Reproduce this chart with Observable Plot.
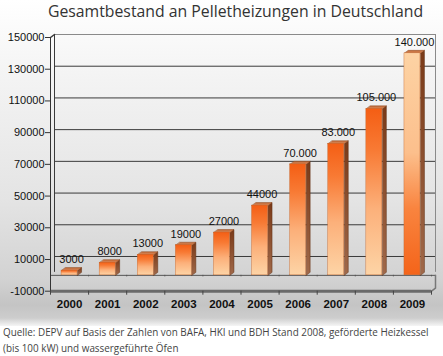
<!DOCTYPE html>
<html><head><meta charset="utf-8">
<script src="https://cdn.jsdelivr.net/npm/d3@7"></script>
<script src="https://cdn.jsdelivr.net/npm/@observablehq/plot@0.6"></script>
<style>
body{margin:0;background:#fff;}
#wrap{position:relative;width:443px;height:356px;overflow:hidden;background:#fff;}
#bg{position:absolute;left:0;top:0;width:443px;height:326px;
 background:linear-gradient(#ffffff 0px,#f3f3f3 80px,#e4e4e4 200px,#d2d2d2 280px,#c4c4c4 305px,#cdcdcd 318px,#ffffff 328px);}
#title{position:absolute;top:0;left:0;width:443px;text-align:center;padding-left:28px;box-sizing:border-box;
 font-family:"Open Sans",sans-serif;font-size:15.8px;line-height:22px;color:#333;white-space:nowrap;}
#chart{position:absolute;left:0;top:24px;}
#caption{position:absolute;left:3px;top:324px;font-family:"Open Sans",sans-serif;font-size:9.9px;line-height:16px;color:#444;white-space:nowrap;}
</style></head>
<body>
<div id="wrap">
 <div id="bg"></div>
 <div id="title">Gesamtbestand an Pelletheizungen in Deutschland</div>
 <div id="chart"></div>
 <div id="caption">Quelle: DEPV auf Basis der Zahlen von BAFA, HKI und BDH Stand 2008, geförderte Heizkessel<br>(bis 100 kW) und wassergeführte Öfen</div>
</div>
<script>
const years = ["2000","2001","2002","2003","2004","2005","2006","2007","2008","2009"];
const values = [3000, 8000, 13000, 19000, 27000, 44000, 70000, 83000, 105000, 140000];
const valueLabels = ["3000","8000","13000","19000","27000","44000","70.000","83.000","105.000","140.000"];
const yTicks = [-10000, 10000, 30000, 50000, 70000, 90000, 110000, 130000, 150000];
const gridValues = [10000, 30000, 50000, 70000, 90000, 110000, 130000];

const data = years.map((year, i) => ({i, year, value: values[i], label: valueLabels[i]}));

const W = 443, H = 302, mL = 50, mR = 12, mT = 13, mB = 35.3;
const yMin = -10000, yMax = 150000;
const pxPerX = (W - mL - mR) / 10;
const pxPerY = (H - mT - mB) / (yMax - yMin);
const depthX = 4 / pxPerX;      // 3D depth in x units
const depthY = 3 / pxPerY;      // 3D depth in y units
const hw = 8 / pxPerX;          // half bar width
const boundaries = d3.range(11).map(k => k - 0.5);

const sides = data.flatMap(d => [
  {i: d.i, x: d.i + hw, y: 0},
  {i: d.i, x: d.i + hw + depthX, y: depthY},
  {i: d.i, x: d.i + hw + depthX, y: d.value + depthY},
  {i: d.i, x: d.i + hw, y: d.value}
]);
const tops = data.flatMap(d => [
  {i: d.i, x: d.i - hw, y: d.value},
  {i: d.i, x: d.i + hw, y: d.value},
  {i: d.i, x: d.i + hw + depthX, y: d.value + depthY},
  {i: d.i, x: d.i - hw + depthX, y: d.value + depthY}
]);

const plot = Plot.plot({
  width: W, height: H,
  marginLeft: mL, marginRight: mR, marginTop: mT, marginBottom: mB,
  style: {background: "transparent", fontFamily: "'Liberation Sans', Arial, sans-serif", overflow: "visible"},
  x: {type: "linear", domain: [-0.5, 9.5], axis: null},
  y: {type: "linear", domain: [yMin, yMax], axis: null},
  marks: [
    // back wall grid
    Plot.ruleY(gridValues, {x1: -0.5, x2: 9.5, dx: 4, dy: -3, stroke: "#3a3a3a", strokeWidth: 1}),
    Plot.ruleY([yMax], {x1: -0.5, x2: 9.5, dx: 4, dy: -3, stroke: "#8a8a8a", strokeWidth: 1}),
    Plot.ruleX([9.5], {y1: 0, y2: yMax, dx: 4, dy: -3, stroke: "#8a8a8a", strokeWidth: 1}),
    Plot.ruleX([-0.5], {y1: 0, y2: yMax, dx: 4, dy: -3, stroke: "#3a3a3a", strokeWidth: 1}),
    Plot.line([{x: -0.5, y: yMax}, {x: -0.5 + depthX, y: yMax + depthY}], {x: "x", y: "y", stroke: "#3a3a3a"}),
    // zero line with boundary ticks
    Plot.ruleY([0], {x1: -0.5, x2: 9.5 + depthX, stroke: "#555", strokeWidth: 1}),
    Plot.ruleX(boundaries, {y1: 0, y2: -1.5 / pxPerY, stroke: "#555"}),
    // floor front edge
    Plot.ruleY([yMin], {x1: -0.5, x2: 9.5, stroke: "#6a6a6a", strokeWidth: 3}),
    Plot.line([{x: 9.5, y: yMin}, {x: 9.5 + depthX, y: yMin + depthY}, {x: 9.5 + depthX, y: 0}], {x: "x", y: "y", stroke: "#777", strokeWidth: 1.5}),
    Plot.ruleX(boundaries, {y1: yMin, y2: yMin - 4 / pxPerY, stroke: "#444"}),
    // front axis line
    Plot.ruleX([-0.5], {y1: yMin, y2: yMax, stroke: "#333", strokeWidth: 1}),
    Plot.axisY(yTicks, {anchor: "left", tickSize: 5, tickPadding: 1, tickFormat: d => String(d), fontSize: 11, fill: "#111", stroke: "#333", label: null}),
    Plot.axisX(d3.range(10), {anchor: "bottom", tickSize: 0, tickPadding: 9, tickFormat: i => years[i], fontSize: 11.5, fontWeight: "bold", fill: "#111", label: null}),
    // bars: side faces
    Plot.line(sides, {x: "x", y: "y", z: "i", curve: "linear-closed", fill: "url(#sideGrad)", stroke: "#5e2e12", strokeWidth: 0.5}),
    // top faces
    Plot.line(tops, {x: "x", y: "y", z: "i", curve: "linear-closed", fill: "url(#topGrad)", stroke: "#8a4a22", strokeWidth: 0.5}),
    // front faces
    Plot.rect(data, {filter: d => d.year !== "2009", x1: d => d.i - hw, x2: d => d.i + hw, y1: 0, y2: "value", fill: "url(#frontGrad)", stroke: "#c0642c", strokeWidth: 0.4}),
    Plot.rect(data, {filter: d => d.year === "2009", x1: d => d.i - hw, x2: d => d.i + hw, y1: 0, y2: "value", fill: "url(#frontGrad2)", stroke: "#c0642c", strokeWidth: 0.4}),
    // value labels
    Plot.text(data, {x: d => d.i + depthX / 2, y: "value", text: "label", dy: -11, fontSize: 11, fill: "#111"})
  ]
});

const defs = d3.select(plot).insert("defs", ":first-child");
function grad(id, stops) {
  const g = defs.append("linearGradient").attr("id", id).attr("x1", 0).attr("y1", 0).attr("x2", 0).attr("y2", 1);
  stops.forEach(([o, c]) => g.append("stop").attr("offset", o).attr("stop-color", c));
}
grad("frontGrad", [[0, "#f45e14"], [0.25, "#f87a34"], [0.6, "#fcb07a"], [1, "#fdd4a6"]]);
grad("frontGrad2", [[0, "#fdd3a4"], [0.45, "#fcbf8c"], [0.7, "#f9843f"], [1, "#f4641a"]]);
grad("sideGrad", [[0, "#7a3a18"], [1, "#a0694a"]]);
grad("topGrad", [[0, "#c26a38"], [1, "#d8895a"]]);

document.getElementById("chart").appendChild(plot);
</script>
</body></html>
